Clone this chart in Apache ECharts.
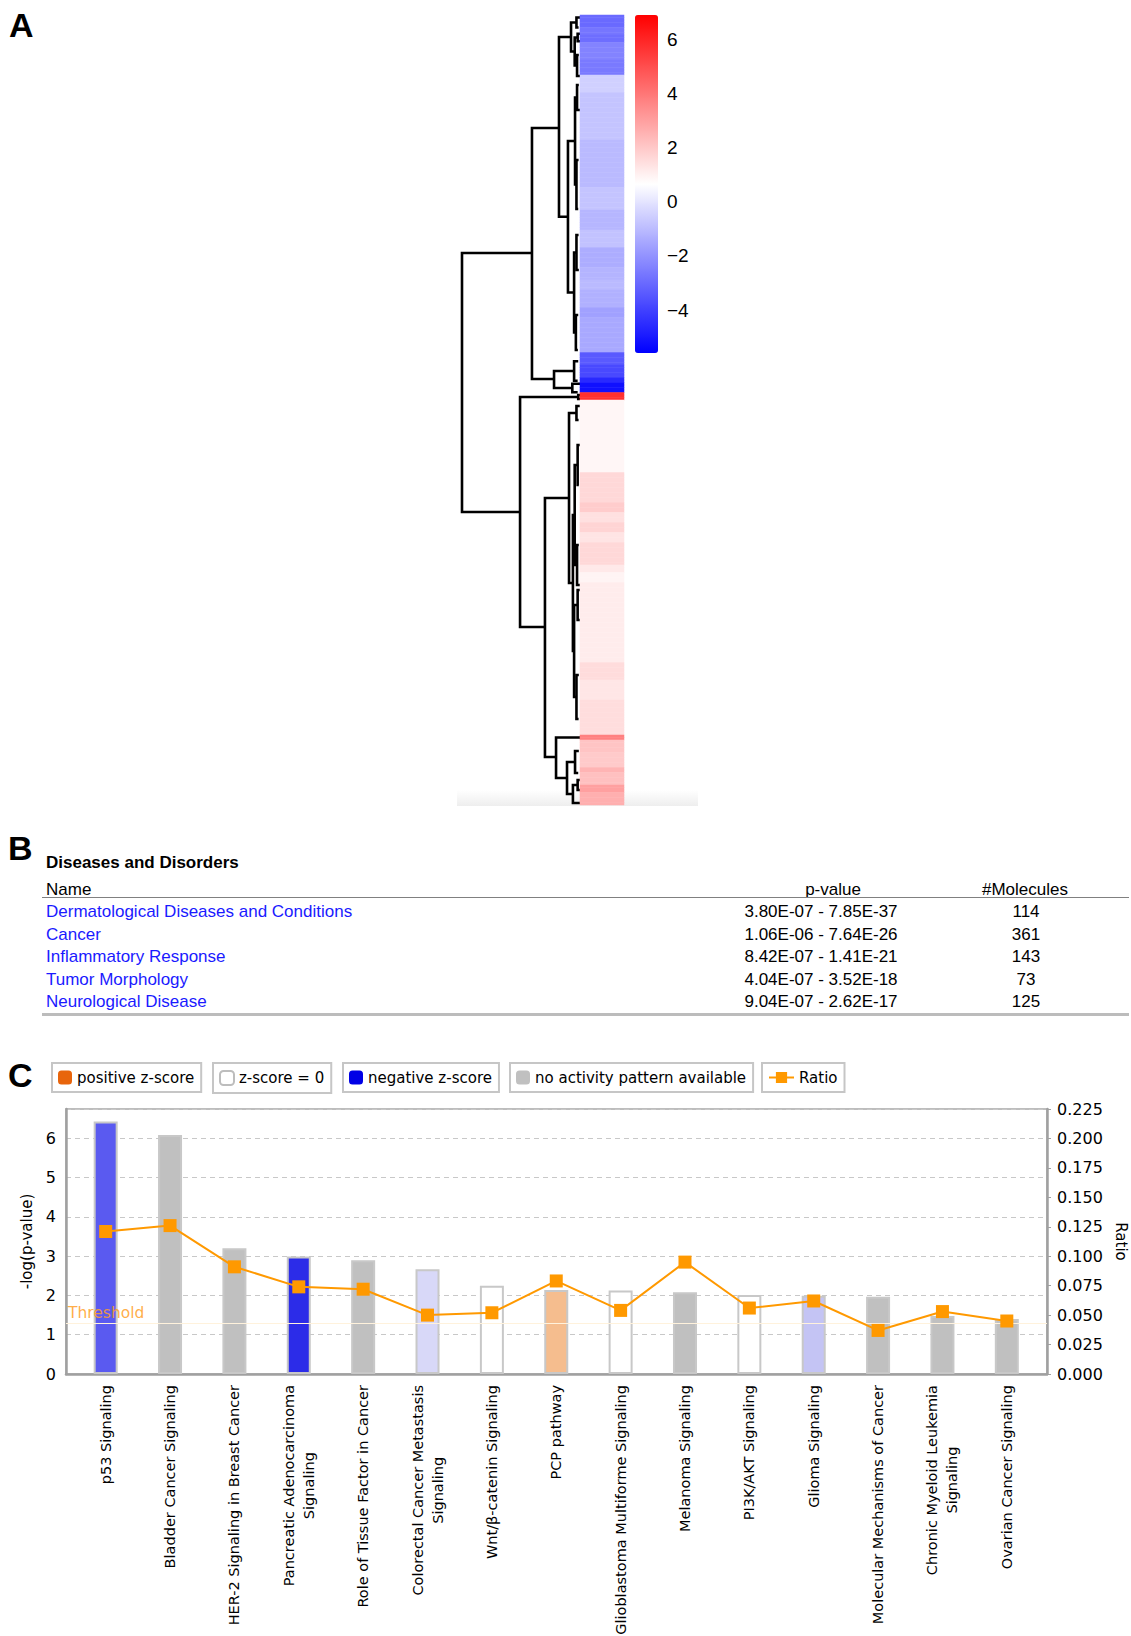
<!DOCTYPE html>
<html>
<head>
<meta charset="utf-8">
<script src="https://cdn.jsdelivr.net/npm/echarts@6/dist/echarts.min.js"></script>
<style>
  html, body { margin: 0; padding: 0; background: #fff; }
  #main { width: 1131px; height: 1636px; }
</style>
</head>
<body>
<div id="main"></div>
<script>
// ---------- A: heatmap column (top to bottom), stored as bands: value + number of rows ----------
const bandValues = [-3.0, -2.7, -2.9, -2.4, -2.6, -0.5, -0.8, -1.05, -0.8, -1.15, -0.85, -1.35, -1.2, -1.05,
  -1.25, -1.65, -1.45, -3.4, -3.8, -4.6, -5.2, 5.7, 0.87, 1.6, 1.9, 1.4, 1.7, 1.3, 1.6, 1.2, 0.92, 1.12,
  1.5, 1.26, 1.48, 3.76, 2.1, 1.95, 2.5, 2.2, 2.98, 2.6];
const bandRows = [5, 3, 3, 7, 6, 7, 19, 19, 9, 8, 7, 8, 5, 4, 7, 4, 14, 5, 5, 2, 4, 3, 29, 12, 4, 4, 4, 4,
  9, 3, 4, 32, 7, 8, 14, 2, 5, 6, 2, 5, 3, 5];
const colorMin = -5.6;
const colorMax = 6.9;

// dendrogram links: [rowA, rowB, height, heightA, heightB] (rows in heatmap row units, 0 = leaf)
const dendroLinks = [
  [95.2, 198.8, 10.0, 4.07, 5.08],
  [45.2, 145.6, 4.07, 1.78, 2.2],
  [8.8, 80.7, 1.78, 0.76, 1.02],
  [3.0, 14.6, 0.76, 0.3, 0.45],
  [1.0, 5.0, 0.3, 0, 0.12],
  [9.0, 20.2, 0.45, 0.2, 0.25],
  [7.5, 10.5, 0.2, 0, 0],
  [16.0, 24.4, 0.25, 0.1, 0],
  [50.4, 111.0, 1.02, 0.42, 0.5],
  [33.0, 67.8, 0.42, 0.25, 0.3],
  [28.0, 38.0, 0.25, 0.1, 0],
  [58.0, 77.6, 0.3, 0.12, 0.15],
  [95.0, 127.0, 0.5, 0.3, 0.35],
  [88.0, 102.0, 0.3, 0.12, 0.1],
  [120.0, 134.0, 0.35, 0.15, 0.18],
  [142.4, 149.2, 2.2, 0.5, 0.65],
  [138.5, 146.3, 0.5, 0.15, 0.2],
  [147.5, 150.9, 0.65, 0, 0.2],
  [152.8, 244.8, 5.08, 0.15, 2.97],
  [152.0, 153.6, 0.15, 0, 0],
  [193.2, 296.8, 2.97, 0.93, 2.03],
  [159.2, 227.2, 0.93, 0.3, 0.6],
  [156.4, 162.0, 0.3, 0, 0.12],
  [200.0, 254.4, 0.6, 0.45, 0.5],
  [180.0, 220.0, 0.45, 0.2, 0.25],
  [172.0, 188.0, 0.2, 0, 0.1],
  [212.0, 228.0, 0.25, 0.1, 0],
  [236.0, 272.8, 0.5, 0.2, 0.3],
  [230.0, 242.0, 0.2, 0, 0],
  [264.0, 281.6, 0.3, 0.1, 0.12],
  [289.0, 305.2, 2.03, 0, 1.1],
  [298.8, 311.6, 1.1, 0.42, 0.6],
  [294.4, 303.2, 0.42, 0.1, 0.15],
  [308.0, 315.2, 0.6, 0.2, 0],
  [306.0, 310.0, 0.2, 0, 0]
];

// ---------- B: Diseases and Disorders ----------
const diseaseNames = ['Dermatological Diseases and Conditions', 'Cancer', 'Inflammatory Response',
  'Tumor Morphology', 'Neurological Disease'];
const diseasePValues = ['3.80E-07 - 7.85E-37', '1.06E-06 - 7.64E-26', '8.42E-07 - 1.41E-21',
  '4.04E-07 - 3.52E-18', '9.04E-07 - 2.62E-17'];
const diseaseMolecules = ['114', '361', '143', '73', '125'];

// ---------- C: canonical pathways ----------
const pathways = ['p53 Signaling', 'Bladder Cancer Signaling', 'HER-2 Signaling in Breast Cancer',
  'Pancreatic Adenocarcinoma\nSignaling', 'Role of Tissue Factor in Cancer',
  'Colorectal Cancer Metastasis\nSignaling', 'Wnt/β-catenin Signaling', 'PCP pathway',
  'Glioblastoma Multiforme Signaling', 'Melanoma Signaling', 'PI3K/AKT Signaling', 'Glioma Signaling',
  'Molecular Mechanisms of Cancer', 'Chronic Myeloid Leukemia\nSignaling', 'Ovarian Cancer Signaling'];
const negLogP = [6.43, 6.09, 3.20, 2.99, 2.90, 2.67, 2.25, 2.14, 2.13, 2.08, 2.01, 1.99, 1.97, 1.48, 1.40];
const ratio = [0.121, 0.126, 0.091, 0.074, 0.072, 0.050, 0.052, 0.079, 0.054, 0.095, 0.056, 0.062, 0.037, 0.053, 0.045];
const zGroups = ['positive z-score', 'z-score = 0', 'negative z-score', 'no activity pattern available'];
const barGroup = [2, 3, 3, 2, 3, 2, 1, 0, 1, 3, 1, 2, 3, 3, 3];
const barColors = ['#5a5af0', '#c0c0c0', '#c0c0c0', '#2c2ce8', '#c0c0c0', '#d8d8f8', '#ffffff', '#f5bd8e',
  '#ffffff', '#c0c0c0', '#ffffff', '#c4c4f4', '#c0c0c0', '#c0c0c0', '#c0c0c0'];
const threshold = 1.3;

const groupColors = ['#e8650c', '#ffffff', '#0000e6', '#c0c0c0'];
const ratioColor = '#ff9900';
const sans = 'Liberation Sans';
const verd = 'DejaVu Sans';

const heatRows = [];
bandValues.forEach((v, i) => { for (let k = 0; k < bandRows[i]; k++) heatRows.push(v); });

const chart = echarts.init(document.getElementById('main'), null, { renderer: 'svg' });

const legendNames = zGroups.concat(['Ratio']);
const legendLeft = [52, 213, 343, 510, 762];

const graphics = [
  { type: 'text', x: 9, y: 25, style: { text: 'A', font: 'bold 34px ' + sans, fill: '#000', verticalAlign: 'middle' } },
  { type: 'text', x: 8, y: 848, style: { text: 'B', font: 'bold 34px ' + sans, fill: '#000', verticalAlign: 'middle' } },
  { type: 'text', x: 8, y: 1075, style: { text: 'C', font: 'bold 34px ' + sans, fill: '#000', verticalAlign: 'middle' } },
  { type: 'rect', z: 0, shape: { x: 457, y: 790, width: 241, height: 16 },
    style: { fill: new echarts.graphic.LinearGradient(0, 0, 0, 1, [
      { offset: 0, color: 'rgba(238,238,238,0)' }, { offset: 1, color: 'rgba(238,238,238,1)' }]) } },
  { type: 'text', x: 46, y: 862, style: { text: 'Diseases and Disorders', font: 'bold 17px ' + sans, fill: '#000', verticalAlign: 'middle' } },
  { type: 'text', x: 46, y: 889, style: { text: 'Name', font: '17px ' + sans, fill: '#000', verticalAlign: 'middle' } },
  { type: 'text', x: 833, y: 889, style: { text: 'p-value', font: '17px ' + sans, fill: '#000', align: 'center', verticalAlign: 'middle' } },
  { type: 'text', x: 1025, y: 889, style: { text: '#Molecules', font: '17px ' + sans, fill: '#000', align: 'center', verticalAlign: 'middle' } },
  { type: 'rect', shape: { x: 42, y: 897, width: 1087, height: 1 }, style: { fill: '#808080' } },
  { type: 'rect', shape: { x: 42, y: 1013, width: 1087, height: 3 }, style: { fill: '#bcbcbc' } }
];
diseaseNames.forEach((n, i) => {
  const y = 889 + (i + 1) * 22.5;
  graphics.push({ type: 'text', x: 46, y: y, style: { text: n, font: '17px ' + sans, fill: '#1a1aff', verticalAlign: 'middle' } });
  graphics.push({ type: 'text', x: 821, y: y, style: { text: diseasePValues[i], font: '17px ' + sans, fill: '#000', align: 'center', verticalAlign: 'middle' } });
  graphics.push({ type: 'text', x: 1026, y: y, style: { text: diseaseMolecules[i], font: '17px ' + sans, fill: '#000', align: 'center', verticalAlign: 'middle' } });
});

const hidden = { show: false };
const option = {
  animation: false,
  backgroundColor: '#fff',
  graphic: graphics,
  grid: [
    { left: 462, top: 15, width: 118, height: 790, outerBoundsMode: 'none' },   // dendrogram
    { left: 580, top: 15, width: 44, height: 790, outerBoundsMode: 'none' },    // heatmap
    { left: 635, top: 39, width: 23, height: 271, outerBoundsMode: 'none' },    // colour bar labels
    { left: 66, top: 1109, width: 981, height: 265, show: true, borderColor: '#a8a8a8', borderWidth: 1.5,
      outerBoundsMode: 'none' },                                                 // C frame
    { left: 73.5, top: 1109, width: 965.5, height: 265, outerBoundsMode: 'none' } // C data
  ],
  xAxis: [
    { gridIndex: 0, type: 'value', min: 0, max: 10, inverse: true, show: false },
    { gridIndex: 1, type: 'category', data: ['x'], show: false },
    { gridIndex: 2, type: 'value', min: 0, max: 1, show: false },
    { gridIndex: 3, type: 'value', min: 0, max: 1, axisLine: { show: true, lineStyle: { color: '#a0a0a0', width: 2.5 } },
      axisTick: hidden, axisLabel: hidden, splitLine: hidden },
    { gridIndex: 4, type: 'category', data: pathways, axisLine: hidden, axisTick: hidden,
      axisLabel: {
        rotate: 90, interval: 0, margin: 11, color: '#000', fontFamily: verd, fontSize: 14.5,
        formatter: name => name.split('\n').map(l => '{c|' + l + '}').join('\n'),
        rich: { c: { align: 'center', fontFamily: verd, fontSize: 14.5, color: '#000', lineHeight: 20 } }
      } }
  ],
  yAxis: [
    { gridIndex: 0, type: 'value', min: 0, max: heatRows.length, inverse: true, show: false },
    { gridIndex: 1, type: 'category', data: heatRows.map((v, i) => i), inverse: true, show: false },
    { gridIndex: 2, type: 'value', position: 'right', min: -4, max: 6, interval: 2,
      axisLine: hidden, axisTick: hidden, splitLine: hidden,
      axisLabel: { margin: 9, color: '#000', fontFamily: sans, fontSize: 19,
        formatter: v => v < 0 ? '\u2212' + Math.abs(v) : String(v) } },
    { gridIndex: 3, type: 'value', position: 'left', min: 0, max: 6.75, interval: 1,
      name: '-log(p-value)', nameLocation: 'middle', nameRotate: 90, nameGap: 30,
      nameTextStyle: { color: '#000', fontFamily: verd, fontSize: 15 },
      axisLine: { show: true, lineStyle: { color: '#a0a0a0', width: 2.5 } }, axisTick: hidden,
      axisLabel: { margin: 10, color: '#000', fontFamily: verd, fontSize: 16,
        formatter: v => Number.isInteger(v) ? String(v) : '' },
      splitLine: { show: true, lineStyle: { color: '#c8c8c8', type: [5, 4], width: 1 } } },
    { gridIndex: 3, type: 'value', position: 'right', min: 0, max: 0.225, interval: 0.025,
      name: 'Ratio', nameLocation: 'middle', nameRotate: -90, nameGap: 66,
      nameTextStyle: { color: '#000', fontFamily: verd, fontSize: 15 },
      axisLine: { show: true, lineStyle: { color: '#a0a0a0', width: 2.5 } },
      axisTick: { show: true, length: 4, lineStyle: { color: '#a0a0a0' } },
      axisLabel: { margin: 10, color: '#000', fontFamily: verd, fontSize: 16, formatter: v => v.toFixed(3) },
      splitLine: hidden },
    { gridIndex: 4, type: 'value', min: 0, max: 6.75, show: false },
    { gridIndex: 4, type: 'value', min: 0, max: 0.225, show: false }
  ],
  visualMap: {
    type: 'continuous', seriesIndex: 1, min: colorMin, max: colorMax, orient: 'vertical',
    left: 635, top: 15, itemWidth: 23, itemHeight: 338, padding: 0, calculable: false,
    hoverLink: false, inRange: { color: ['#0000ff', '#ffffff', '#ff0000'] }
  },
  legend: legendNames.map((name, i) => ({
    data: [name], left: legendLeft[i], top: 1063, orient: 'horizontal',
    borderColor: '#c6c6c6', borderWidth: 2, padding: [7, 7, 7, 6],
    itemWidth: i === 4 ? 25 : 14, itemHeight: 14, itemGap: 6,
    selectedMode: false,
    itemStyle: i === 1 ? { borderColor: '#bdbdbd', borderWidth: 2 } : { borderWidth: 0 },
    textStyle: { color: '#000', fontFamily: verd, fontSize: 15 }
  })),
  series: [
    {
      type: 'custom', name: 'dendrogram', xAxisIndex: 0, yAxisIndex: 0, silent: true,
      data: dendroLinks,
      renderItem: (params, api) => {
        const yA = api.value(0), yB = api.value(1), h = api.value(2), hA = api.value(3), hB = api.value(4);
        const pts = [api.coord([hA, yA]), api.coord([h, yA]), api.coord([h, yB]), api.coord([hB, yB])];
        return { type: 'polyline', shape: { points: pts }, style: { stroke: '#000', lineWidth: 2.6, fill: 'none' } };
      }
    },
    {
      type: 'heatmap', name: 'expression', xAxisIndex: 1, yAxisIndex: 1, silent: true, z: 3,
      data: heatRows.map((v, i) => [0, i, v])
    },
    {
      type: 'line', name: 'threshold', xAxisIndex: 3, yAxisIndex: 3, silent: true,
      data: [[0, threshold], [1, threshold]], showSymbol: false, symbol: 'none',
      lineStyle: { opacity: 0 }, z: 1,
      markLine: {
        silent: true, symbol: 'none', data: [{ yAxis: threshold }],
        lineStyle: { color: '#fff2dc', width: 1, type: 'solid' },
        label: { position: 'insideStartTop', formatter: 'Threshold', distance: [2, 2],
          color: 'rgba(255,160,40,0.85)', fontFamily: verd, fontSize: 15.5 }
      }
    }
  ].concat(zGroups.map((g, gi) => ({
    type: 'bar', name: g, xAxisIndex: 4, yAxisIndex: 5, stack: 'z', barWidth: 24, silent: true,
    itemStyle: { color: groupColors[gi], borderColor: '#c8c8c8', borderWidth: 2 },
    data: negLogP.map((v, i) => barGroup[i] === gi ? { value: v, itemStyle: { color: barColors[i] } } : '-')
  }))).concat([{
    type: 'line', name: 'Ratio', xAxisIndex: 4, yAxisIndex: 6, data: ratio, z: 5, silent: true,
    symbol: 'rect', symbolSize: 13, showAllSymbol: true,
    itemStyle: { color: ratioColor }, lineStyle: { color: ratioColor, width: 2 }
  }])
};

chart.setOption(option);
</script>
</body>
</html>
